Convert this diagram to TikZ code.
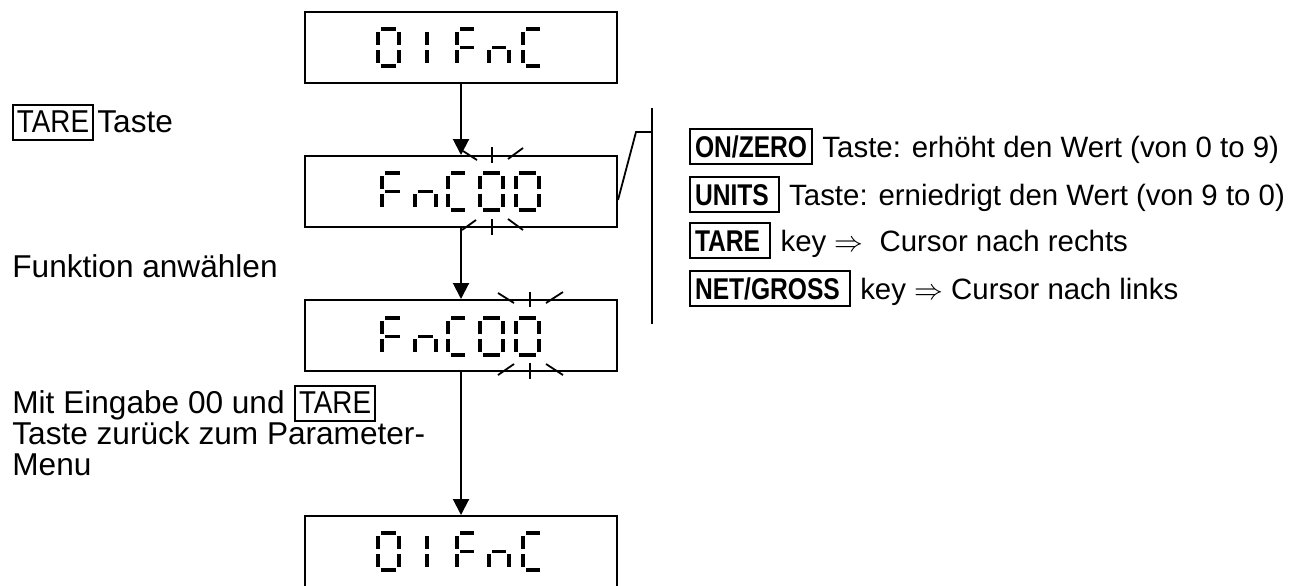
\documentclass[tikz,border=0pt]{standalone}
\usepackage{fontspec}
\setmainfont{Liberation Sans}
\newfontfamily\narrowf[FakeStretch=0.82]{Liberation Sans}
\newfontfamily\tarefont[FakeStretch=0.88]{Liberation Sans}
\usetikzlibrary{arrows.meta}
% seven-segment helpers (pixel units, y downwards)
\newcommand\SegA[4]{\draw[seg] ({#1+3},{#2}) -- ({#1+#3-3},{#2});}
\newcommand\SegB[4]{\draw[seg] ({#1+#3},{#2+3}) -- ({#1+#3},{#2+#4/2-2.5});}
\newcommand\SegC[4]{\draw[seg] ({#1+#3},{#2+#4/2+2.5}) -- ({#1+#3},{#2+#4-3});}
\newcommand\SegD[4]{\draw[seg] ({#1+3},{#2+#4}) -- ({#1+#3-3},{#2+#4});}
\newcommand\SegE[4]{\draw[seg] ({#1},{#2+#4/2+2.5}) -- ({#1},{#2+#4-3});}
\newcommand\SegF[4]{\draw[seg] ({#1},{#2+3}) -- ({#1},{#2+#4/2-2.5});}
\newcommand\SegG[4]{\draw[seg] ({#1+3},{#2+#4/2}) -- ({#1+#3-3},{#2+#4/2});}
\newcommand\DigitAt[5]{\foreach \sgm in {#5}{\csname Seg\sgm\endcsname{#1}{#2}{#3}{#4}}}
\begin{document}
\begin{tikzpicture}[x=0.5pt,y=-0.5pt,
  disp/.style={draw, line width=1pt, minimum width=156pt, minimum height=35.5pt, inner sep=0pt},
  seg/.style={line width=1.75pt, line cap=butt},
  blink/.style={line width=0.9pt},
  arr/.style={line width=1pt, -{Triangle[length=8pt,width=8pt]}},
  txtL/.style={font=\fontsize{15.8}{18}\selectfont, inner sep=0pt, anchor=base west},
  keyL/.style={draw, line width=1pt, font=\tarefont\fontsize{15.8}{18}\selectfont, inner xsep=2pt, inner ysep=0pt, text height=13.5pt, text depth=4pt, anchor=base west},
  keyR/.style={draw, line width=1pt, font=\narrowf\bfseries\fontsize{15}{18}\selectfont, inner xsep=2.5pt, inner ysep=0pt, text height=14pt, text depth=3.5pt, anchor=base west},
  txtR/.style={font=\fontsize{14.7}{18}\selectfont, inner sep=0pt, anchor=base west, xshift=4.5pt}]
\useasboundingbox (0,0) rectangle (1289,585);

% display boxes
\node[disp] (b1) at (461,47.5) {};
\node[disp] (b2) at (461,191.5) {};
\node[disp] (b3) at (461,335.5) {};
\node[disp] (b4) at (461,551.5) {};

% digits: 01FnC
\foreach \yy in {29,533}{
  \DigitAt{378}{\yy}{21}{37}{A,B,C,D,E,F}
  \DigitAt{407}{\yy}{20}{37}{B,C}
  \DigitAt{457}{\yy}{20}{37}{A,F,E,G}
  \DigitAt{489}{\yy}{20}{37}{G,E,C}
  \DigitAt{523}{\yy}{20}{37}{A,D,E,F}
}
% digits: FnC00
\foreach \yy in {173,318}{
  \DigitAt{382}{\yy}{21}{37}{A,F,E,G}
  \DigitAt{415}{\yy}{21}{37}{G,E,C}
  \DigitAt{448}{\yy}{20}{37}{A,D,E,F}
  \DigitAt{480}{\yy}{23}{37}{A,B,C,D,E,F}
  \DigitAt{516}{\yy}{23}{37}{A,B,C,D,E,F}
}

% blink marks
\draw[blink] (463,151) -- (477,160);
\draw[blink] (492,147) -- (492,163);
\draw[blink] (508,159) -- (523,148);
\draw[blink] (462,230) -- (476,220);
\draw[blink] (492,219) -- (492,235);
\draw[blink] (508,219) -- (523,230);
\draw[blink] (498,293) -- (514,303);
\draw[blink] (530,292) -- (530,307);
\draw[blink] (546,303) -- (563,292);
\draw[blink] (498,375) -- (514,364);
\draw[blink] (530,363) -- (530,379);
\draw[blink] (546,364) -- (563,375);

% arrows
\draw[arr] (b1.south) -- (b2.north);
\draw[arr] (b2.south) -- (b3.north);
\draw[arr] (b3.south) -- (b4.north);

% bracket
\coordinate (c200) at (0,200);
\coordinate (bk) at (636,132);
\coordinate (bt) at (652,108);
\coordinate (bm) at (652,132);
\coordinate (bb) at (652,324);
\draw[line width=0.9pt] (b2.east |- c200) -- (bk) -- (bm);
\draw[line width=0.9pt] (bt) -- (bb);

% left texts
\node[keyL] (tareA) at (12,132) {TARE};
\node[txtL] (tasteA) at (97,132) {Taste};
\node[txtL] (funk) at (12,277) {Funktion anwählen};
\node[txtL] (mit) at (12,413) {Mit Eingabe 00 und};
\node[keyL] (tareB) at (294,413) {TARE};
\node[txtL] (zur) at (12,444) {Taste zurück zum Parameter-};
\node[txtL] (menu) at (12,475) {Menu};

% right texts
\node[keyR] (k1) at (689,157) {ON/ZERO};
\node[txtR] (t1) at (k1.base east) {Taste: erhöht den Wert (von 0 to 9)};
\node[keyR] (k2) at (689,205) {UNITS\,};
\node[txtR] (t2) at (k2.base east) {Taste: erniedrigt den Wert (von 9 to 0)};
\node[keyR] (k3) at (689,251) {TARE\,};
\node[txtR] (t3) at (k3.base east) {key $\Rightarrow$\ \ Cursor nach rechts};
\node[keyR] (k4) at (689,299) {NET/GROSS\,};
\node[txtR] (t4) at (k4.base east) {key $\Rightarrow$ Cursor nach links};
\end{tikzpicture}
\end{document}
